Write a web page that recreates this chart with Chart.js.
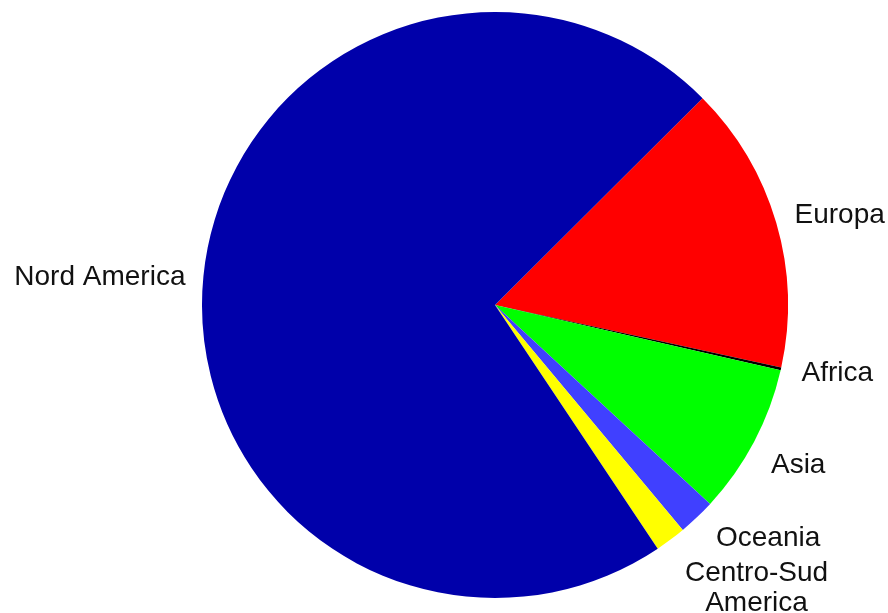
<!DOCTYPE html>
<html>
<head>
<meta charset="utf-8">
<title>Regioni</title>
<script src="https://cdn.jsdelivr.net/npm/chart.js@4/dist/chart.umd.min.js"></script>
<style>
  html, body { margin: 0; padding: 0; background: #fff; }
  #wrap { width: 888px; height: 613px; position: relative; }
</style>
</head>
<body>
<div id="wrap"><canvas id="pie"></canvas></div>
<script>
(function () {
  'use strict';

  // shares in percent, clockwise from the Europa edge
  var regions = ['Europa', 'Africa', 'Asia', 'Oceania', 'Centro-Sud\nAmerica', 'Nord America'];
  var shares  = [15.9, 0.15, 8.3, 2.05, 1.7, 71.9];
  var colors  = ['#ff0000', '#000000', '#00ff00', '#4040ff', '#ffff00', '#0000aa'];

  // per-label tweak [dx, dy] after placing at the slice mid-angle
  var nudge = [[0, -2], [2, 0], [0, 15], [6, 7], [3, 33], [1, 3]];

  var outsideLabels = {
    id: 'outsideLabels',
    afterDraw: function (chart) {
      var ctx = chart.ctx;
      var arcs = chart.getDatasetMeta(0).data;
      ctx.save();
      ctx.font = '28px "Liberation Sans", Arial, sans-serif';
      ctx.fillStyle = '#111';
      ctx.textBaseline = 'middle';
      arcs.forEach(function (arc, i) {
        var mid = (arc.startAngle + arc.endAngle) / 2;
        var r = arc.outerRadius * 1.065;
        var x = arc.x + r * Math.cos(mid) + nudge[i][0];
        var y = arc.y + r * Math.sin(mid) + nudge[i][1];
        var lines = regions[i].split('\n');
        var w = Math.max.apply(null, lines.map(function (l) { return ctx.measureText(l).width; }));
        var left = Math.cos(mid) >= 0 ? x : x - w;
        var lh = 30;
        var y0 = y - (lines.length - 1) * lh / 2;
        ctx.textAlign = 'center';
        lines.forEach(function (l, k) {
          ctx.fillText(l, left + w / 2, y0 + k * lh);
        });
      });
      ctx.restore();
    }
  };

  new Chart(document.getElementById('pie').getContext('2d'), {
    type: 'pie',
    data: {
      labels: regions,
      datasets: [{
        data: shares,
        backgroundColor: colors,
        borderWidth: 0
      }]
    },
    options: {
      responsive: true, maintainAspectRatio: false,
      animation: false,
      rotation: 45.1,
      layout: { padding: { left: 202, right: 100, top: 12, bottom: 15 } },
      plugins: {
        legend: { display: false },
        tooltip: { enabled: false }
      }
    },
    plugins: [outsideLabels]
  });
})();
</script>
</body>
</html>
